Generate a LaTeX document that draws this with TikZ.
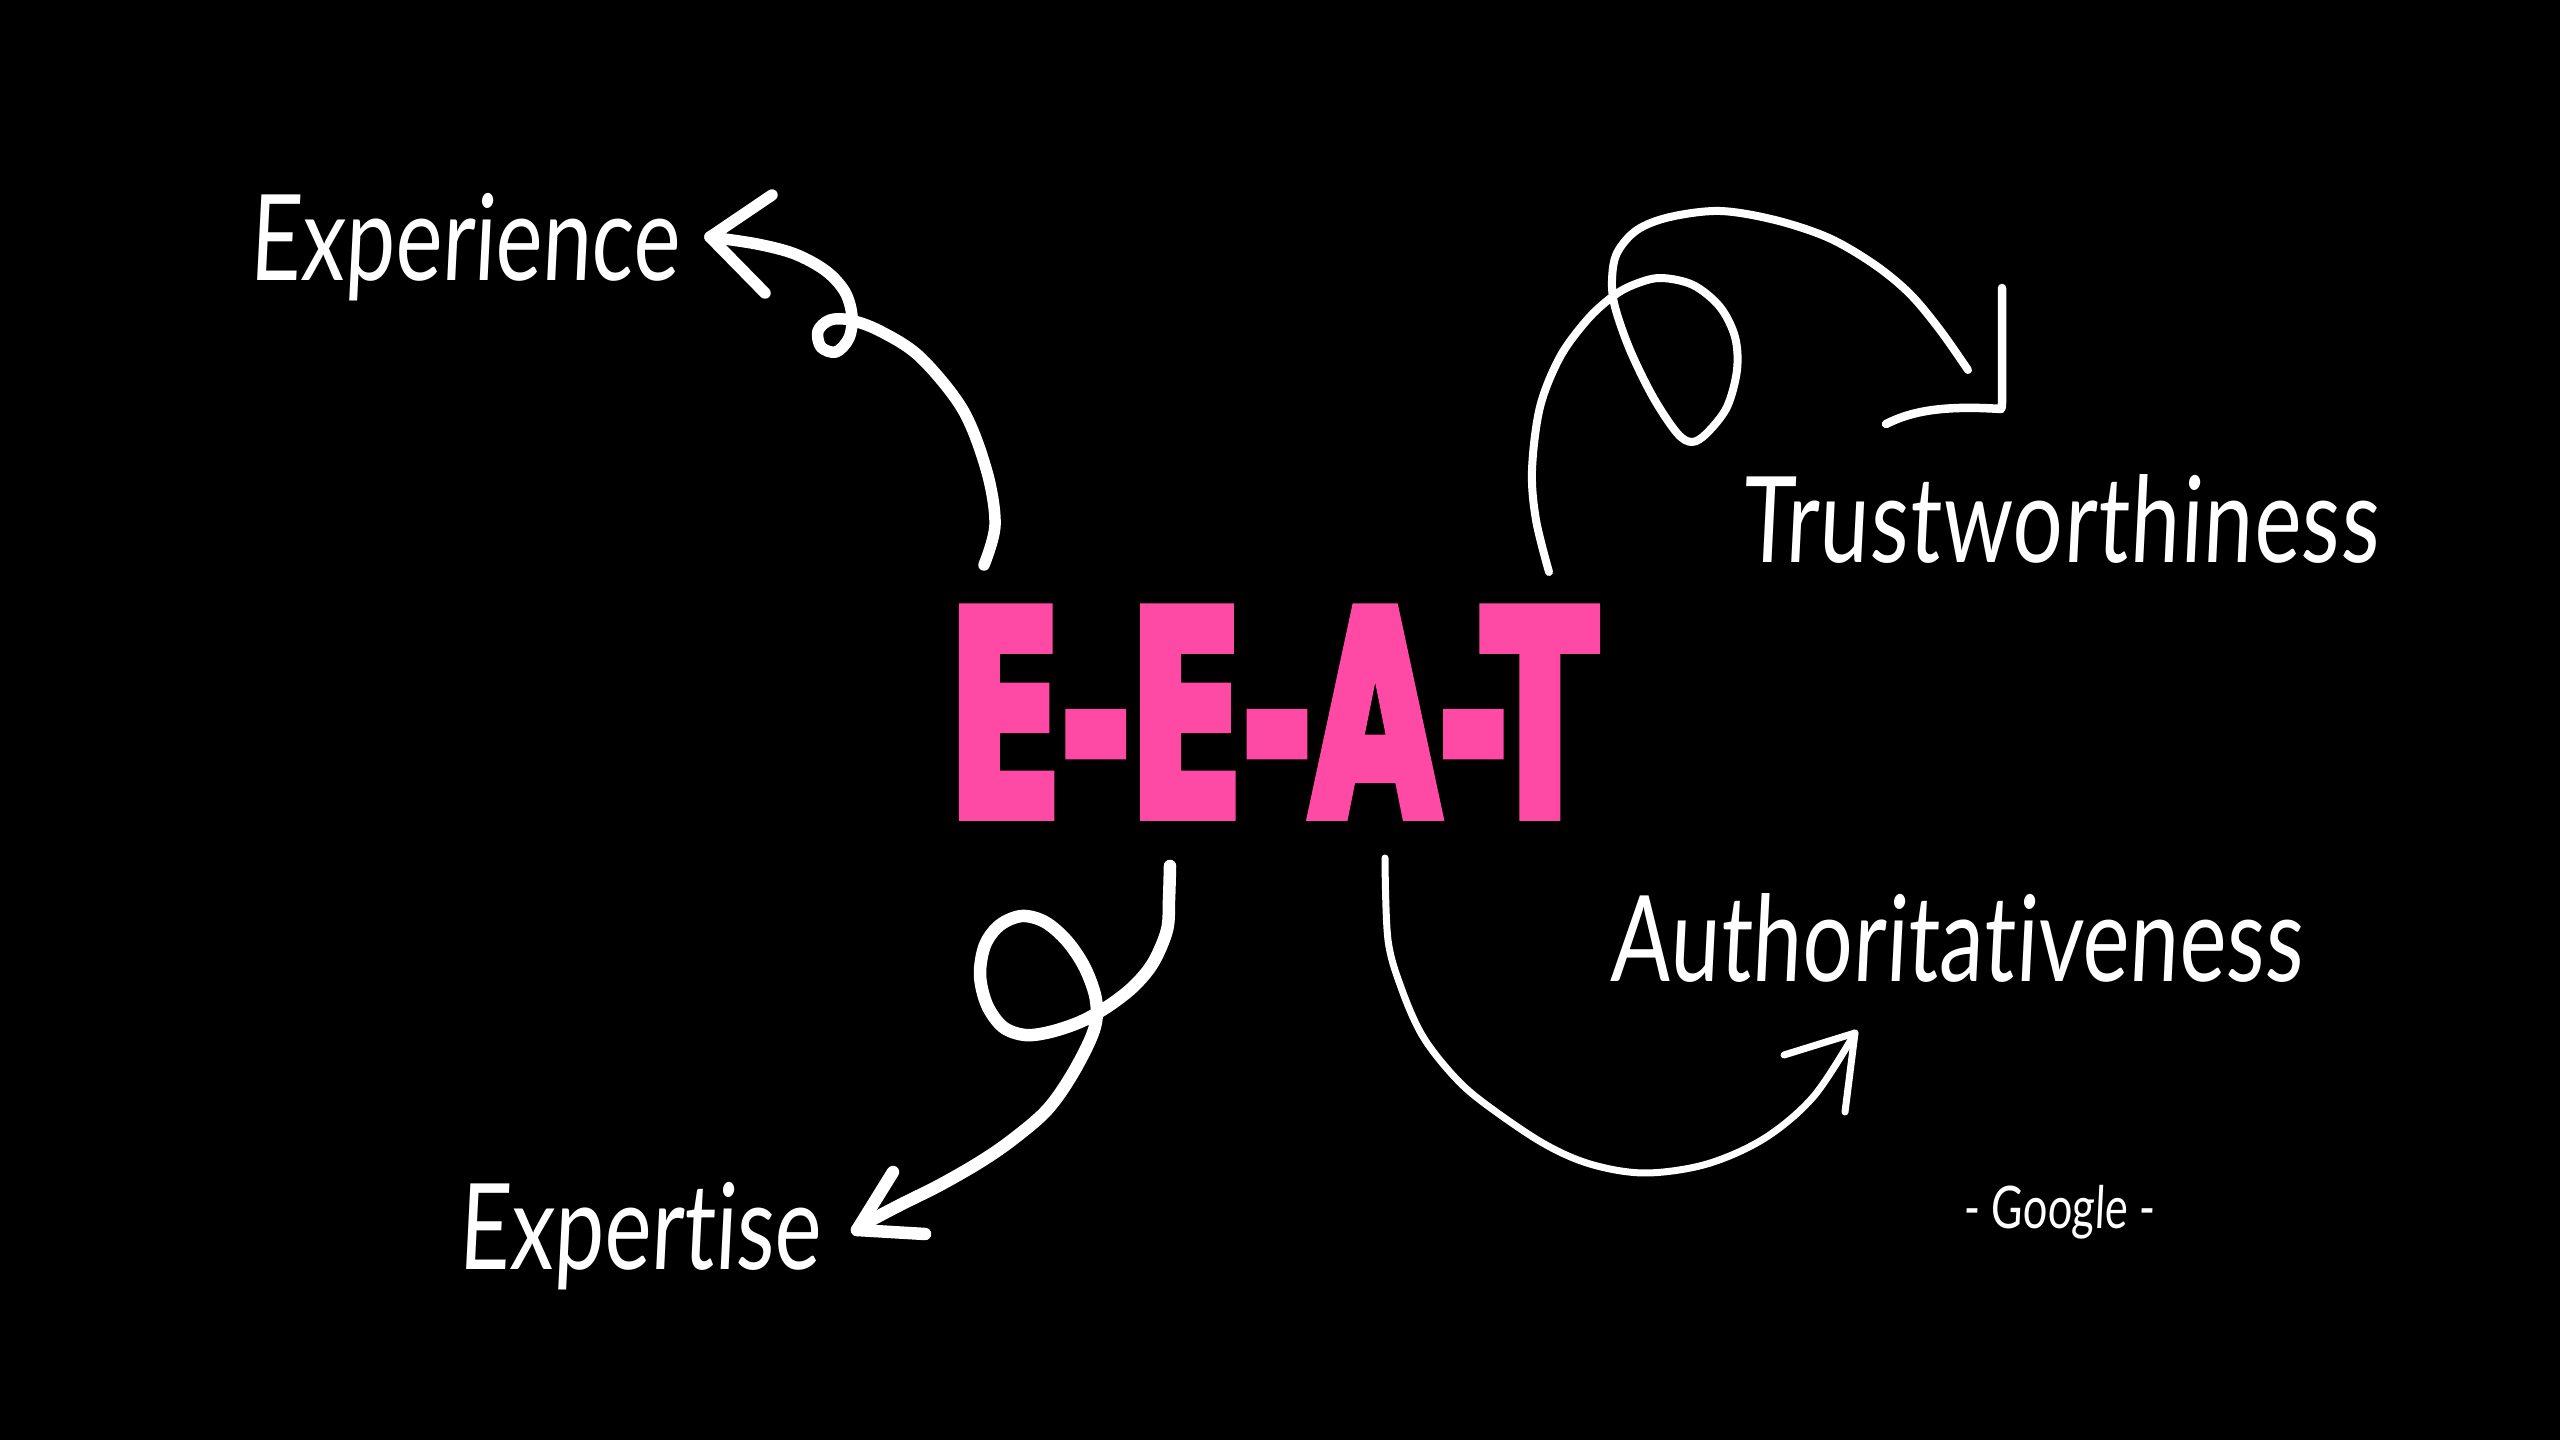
\documentclass[tikz,border=0pt]{standalone}
\usepackage{fontspec}
\usetikzlibrary{calc}
\newfontfamily\handfont[FakeStretch=0.74,FakeSlant=0.05,Ligatures=NoCommon]{Lato}
\newfontfamily\eeatfont[FakeStretch=0.58,FakeBold=3.5]{DejaVu Sans}
\definecolor{Pink}{HTML}{FF4AA5}

\begin{document}
\begin{tikzpicture}[x=0.1mm,y=-0.1mm,
  pen/.style={white,line cap=round,line join=round},
  word/.style={anchor=base west,inner sep=0pt,text=white,font=\handfont\fontsize{34}{40}\selectfont}]
\fill[black] (0,0) rectangle (2560,1440);
\useasboundingbox (0,0) rectangle (2560,1440);

\node[anchor=base west,inner sep=0pt,text=Pink,font=\eeatfont\bfseries\fontsize{81}{90}\selectfont] (eeat) at (948,816) {E-E-A-T};

\node[word] (experience) at (249,281) {Experience};
\node[word,font=\handfont\fontsize{34}{40}\selectfont\addfontfeature{LetterSpace=1}] (trust) at (1741,563) {Trustworthiness};
\node[word] (expertise) at (458,1269) {Expertise};
\node[word,font=\handfont\fontsize{34}{40}\selectfont\addfontfeature{LetterSpace=0.4}] (auth) at (1610,982) {Authoritativeness};
\node[word,font=\handfont\fontsize{16.7}{20}\selectfont] (google) at (1963,1228) {- Google -};

\coordinate (expS) at (984,565);
\coordinate (expT) at (710,237);
\draw[pen,line width=1.15mm] plot[smooth,tension=0.55] coordinates {(expS) (995,525) (987,472) (963,410) (920,357) (880,331) (850,320) (830,320) (818,331) (821,347) (836,352) (849,338) (852,316) (845,292) (826,271) (795,254) (757,244) (expT)};
\draw[pen,line width=1.15mm] (772,195) -- (expT) -- (765,293);

\coordinate (trS) at (1549,572);
\coordinate (trE) at (1968,370);
\coordinate (trT) at (2001,409);
\draw[pen,line width=0.8mm] plot[smooth,tension=0.55] coordinates {(trS) (1536,520) (1532,470) (1540,407) (1560,357) (1587,320) (1612,297) (1633,285) (1660,278) (1693,285) (1720,307) (1735,337) (1737,370) (1727,407) (1707,433) (1692,442) (1677,433) (1653,397) (1630,350) (1615,307) (1612,280) (1617,253) (1637,230) (1670,217) (1720,211) (1775,220) (1829,238) (1875,265) (1910,294) (1940,330) (trE)};
\draw[pen,line width=0.85mm] (2002,288) -- (2002,396) .. controls (2002,408) .. (trT) .. controls (1940,405) and (1910,412) .. (1886,424);

\coordinate (xpS) at (1170,866);
\coordinate (xpT) at (857,1230);
\draw[pen,line width=1.25mm] plot[smooth,tension=0.55] coordinates {(xpS) (1169,900) (1167,930) (1153,963) (1133,987) (1107,1007) (1080,1022) (1050,1032) (1025,1035) (1003,1027) (987,1005) (980,975) (985,945) (1000,925) (1022,916) (1045,922) (1067,941) (1085,968) (1096,1000) (1094,1030) (1073,1073) (1047,1110) (1012,1140) (980,1162) (940,1185) (900,1205) (868,1222) (xpT)};
\draw[pen,line width=1.25mm] (893,1172) -- (xpT) -- (925,1234);

\coordinate (auS) at (1385,858);
\coordinate (auT) at (1855,1033);
\draw[pen,line width=0.7mm] plot[smooth,tension=0.55] coordinates {(auS) (1388,940) (1402,990) (1422,1035) (1450,1072) (1480,1100) (1541,1142) (1590,1164) (1645,1173) (1707,1164) (1765,1138) (1814,1096) (auT)};
\draw[pen,line width=0.7mm] (1784,1055) -- (auT) -- (1845,1112);
\end{tikzpicture}
\end{document}
